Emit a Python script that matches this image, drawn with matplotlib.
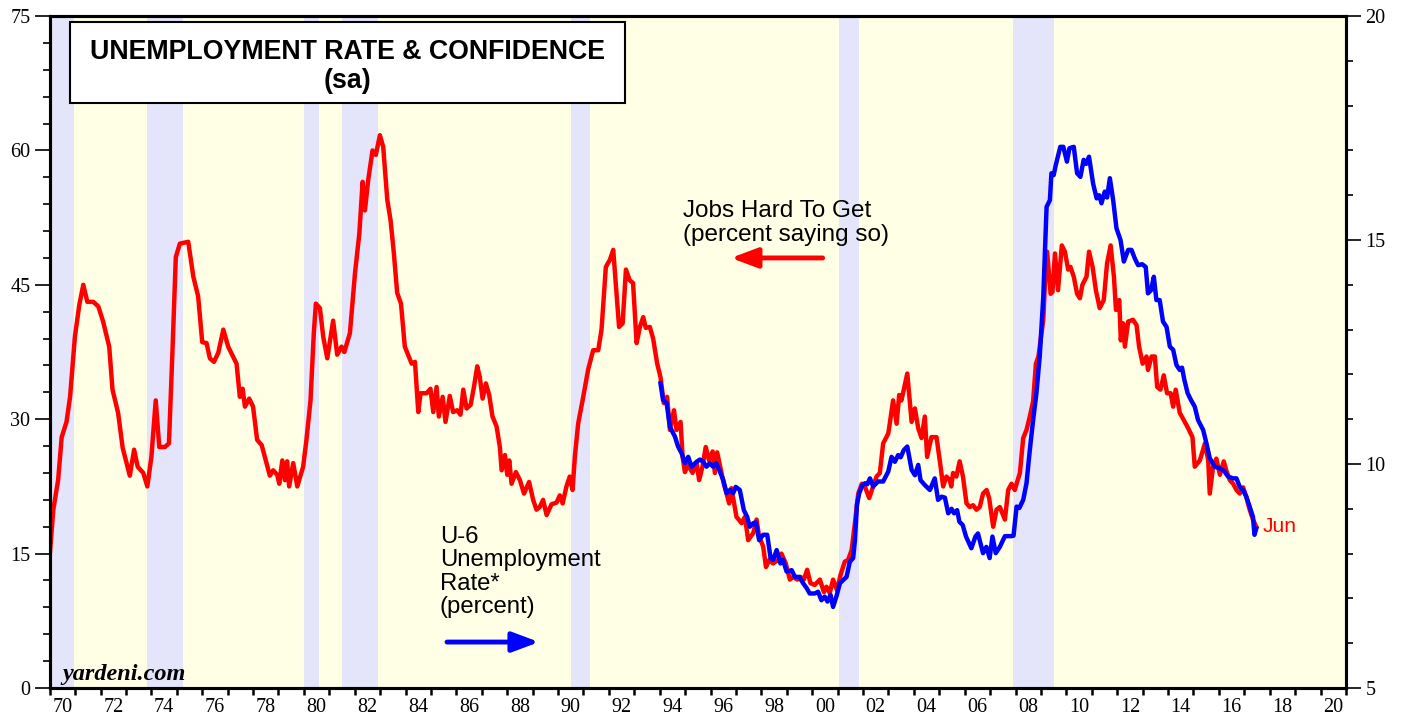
import matplotlib
matplotlib.use("Agg")
import matplotlib.pyplot as plt
from matplotlib.patches import Rectangle

# Jobs Hard To Get (percent saying so), left axis
red_years = [
    1970.00, 1970.14, 1970.33, 1970.47, 1970.66, 1970.80, 1970.99, 1971.16, 1971.32, 1971.48,
    1971.71, 1971.91, 1972.10, 1972.34, 1972.47, 1972.69, 1972.87, 1973.15, 1973.32, 1973.46,
    1973.68, 1973.84, 1974.00, 1974.17, 1974.31, 1974.53, 1974.69, 1974.83, 1974.96, 1975.12,
    1975.45, 1975.65, 1975.84, 1976.00, 1976.17, 1976.30, 1976.46, 1976.63, 1976.83, 1977.02,
    1977.35, 1977.48, 1977.59, 1977.68, 1977.85, 1978.00, 1978.16, 1978.34, 1978.66, 1978.79,
    1978.95, 1979.03, 1979.15, 1979.25, 1979.34, 1979.42, 1979.58, 1979.74, 1979.97, 1980.10,
    1980.26, 1980.39, 1980.47, 1980.63, 1980.76, 1980.92, 1981.15, 1981.31, 1981.48, 1981.59,
    1981.81, 1982.01, 1982.18, 1982.31, 1982.40, 1982.53, 1982.70, 1982.83, 1982.99, 1983.12,
    1983.28, 1983.41, 1983.54, 1983.67, 1983.82, 1983.97, 1984.24, 1984.37, 1984.50, 1984.59,
    1984.83, 1984.98, 1985.09, 1985.22, 1985.31, 1985.46, 1985.57, 1985.74, 1985.87, 1986.03,
    1986.16, 1986.27, 1986.40, 1986.56, 1986.69, 1986.82, 1986.92, 1987.03, 1987.16, 1987.29,
    1987.42, 1987.58, 1987.71, 1987.78, 1987.91, 1988.00, 1988.08, 1988.17, 1988.34, 1988.50,
    1988.66, 1988.86, 1989.02, 1989.15, 1989.28, 1989.41, 1989.55, 1989.74, 1989.94, 1990.07,
    1990.18, 1990.33, 1990.46, 1990.57, 1990.66, 1990.79, 1990.99, 1991.18, 1991.38, 1991.58,
    1991.71, 1991.88, 1992.04, 1992.17, 1992.27, 1992.40, 1992.54, 1992.67, 1992.82, 1992.95,
    1993.09, 1993.22, 1993.35, 1993.45, 1993.61, 1993.74, 1993.90, 1994.03, 1994.16, 1994.29,
    1994.40, 1994.56, 1994.66, 1994.82, 1994.90, 1994.99, 1995.12, 1995.29, 1995.45, 1995.55,
    1995.68, 1995.81, 1995.94, 1996.08, 1996.17, 1996.26, 1996.43, 1996.52, 1996.63, 1996.73,
    1996.82, 1997.02, 1997.22, 1997.35, 1997.48, 1997.68, 1997.81, 1997.91, 1998.07, 1998.18,
    1998.31, 1998.46, 1998.66, 1998.79, 1998.96, 1999.12, 1999.25, 1999.41, 1999.54, 1999.67,
    1999.80, 1999.93, 2000.10, 2000.30, 2000.46, 2000.56, 2000.69, 2000.82, 2000.98, 2001.11,
    2001.28, 2001.41, 2001.55, 2001.68, 2001.81, 2001.95, 2002.07, 2002.24, 2002.37, 2002.53,
    2002.66, 2002.79, 2002.99, 2003.05, 2003.18, 2003.32, 2003.42, 2003.51, 2003.74, 2003.91,
    2004.04, 2004.17, 2004.30, 2004.43, 2004.52, 2004.69, 2004.89, 2005.05, 2005.15, 2005.28,
    2005.41, 2005.47, 2005.54, 2005.67, 2005.80, 2005.93, 2006.07, 2006.20, 2006.33, 2006.46,
    2006.59, 2006.72, 2006.86, 2006.96, 2007.12, 2007.25, 2007.38, 2007.58, 2007.71, 2007.84,
    2007.97, 2008.04, 2008.17, 2008.30, 2008.43, 2008.56, 2008.69, 2008.80, 2008.90, 2009.09,
    2009.15, 2009.24, 2009.38, 2009.45, 2009.55, 2009.67, 2009.82, 2009.94, 2010.07, 2010.16,
    2010.29, 2010.42, 2010.53, 2010.63, 2010.79, 2010.89, 2011.03, 2011.16, 2011.31, 2011.47,
    2011.60, 2011.74, 2011.87, 2011.95, 2012.08, 2012.14, 2012.23, 2012.30, 2012.43, 2012.62,
    2012.76, 2012.86, 2013.00, 2013.15, 2013.21, 2013.35, 2013.48, 2013.57, 2013.70, 2013.83,
    2013.96, 2014.10, 2014.20, 2014.30, 2014.46, 2014.62, 2014.79, 2014.96, 2015.05, 2015.25,
    2015.45, 2015.58, 2015.64, 2015.77, 2015.90, 2016.04, 2016.19, 2016.30, 2016.43, 2016.56,
    2016.69, 2016.82, 2016.95, 2017.08, 2017.21, 2017.34, 2017.47,
]
red_vals = [
    14.8, 19.9, 23.2, 28.0, 29.7, 32.5, 39.2, 42.7, 45.0, 43.1,
    43.1, 42.6, 40.9, 38.1, 33.3, 30.7, 26.8, 23.7, 26.6, 24.7,
    24.0, 22.5, 25.8, 32.1, 26.9, 26.9, 27.3, 37.7, 48.1, 49.6,
    49.8, 45.9, 43.7, 38.6, 38.5, 36.8, 36.4, 37.4, 40.0, 38.1,
    36.2, 32.5, 33.4, 31.4, 32.3, 31.4, 27.7, 27.1, 23.7, 24.3,
    23.8, 22.8, 25.4, 23.2, 25.3, 22.5, 25.1, 22.5, 24.7, 27.7,
    32.1, 39.6, 42.9, 42.4, 39.2, 36.8, 41.0, 37.2, 38.1, 37.5,
    39.6, 46.3, 50.7, 56.5, 53.3, 56.7, 60.0, 59.5, 61.7, 60.4,
    54.5, 52.2, 48.5, 44.1, 42.9, 38.1, 36.2, 36.4, 30.8, 32.9,
    32.9, 33.4, 30.8, 33.6, 30.3, 32.5, 29.7, 32.6, 30.8, 31.0,
    30.5, 33.3, 31.2, 31.6, 33.6, 35.9, 34.7, 32.3, 34.0, 32.7,
    30.3, 29.2, 26.9, 24.3, 26.0, 23.8, 25.4, 22.8, 24.1, 23.2,
    21.7, 23.0, 21.0, 19.9, 20.2, 21.0, 19.3, 20.5, 20.7, 21.5,
    20.6, 22.5, 23.6, 22.1, 25.8, 29.5, 32.5, 35.5, 37.7, 37.7,
    40.0, 47.0, 47.8, 48.9, 45.2, 40.3, 40.7, 46.7, 45.5, 45.2,
    38.5, 40.3, 41.4, 40.2, 40.3, 39.0, 36.2, 34.7, 31.8, 32.5,
    28.8, 31.0, 28.8, 29.7, 25.8, 24.1, 24.9, 24.0, 25.1, 23.2,
    24.7, 26.9, 25.4, 26.4, 24.0, 26.3, 24.0, 22.8, 21.7, 20.6,
    22.3, 19.1, 18.4, 19.1, 16.5, 17.3, 18.8, 16.9, 15.8, 13.5,
    14.3, 13.9, 14.3, 15.0, 13.9, 12.1, 12.4, 12.1, 12.4, 12.1,
    13.2, 11.7, 11.5, 12.1, 10.7, 11.3, 10.6, 12.1, 10.9, 12.6,
    14.1, 14.3, 15.4, 18.4, 21.7, 22.8, 22.5, 21.2, 22.3, 23.6,
    24.0, 27.3, 28.4, 29.5, 32.1, 29.5, 32.7, 32.1, 35.1, 29.7,
    31.2, 29.0, 27.9, 30.3, 25.8, 28.0, 28.0, 24.7, 22.5, 23.6,
    23.2, 22.5, 24.0, 23.6, 25.3, 23.6, 20.6, 20.2, 20.4, 19.9,
    20.2, 21.7, 22.1, 21.2, 18.0, 19.9, 20.2, 18.8, 22.1, 22.8,
    22.1, 22.8, 24.0, 27.9, 28.8, 30.3, 32.0, 36.2, 37.0, 41.1,
    44.8, 48.7, 44.0, 44.2, 48.5, 44.4, 49.4, 48.7, 46.7, 47.0,
    45.9, 44.0, 43.5, 45.0, 45.9, 48.7, 47.0, 44.4, 42.4, 43.3,
    47.4, 49.4, 45.9, 42.2, 43.3, 38.8, 40.7, 38.1, 40.9, 41.1,
    40.5, 38.1, 36.2, 37.0, 35.5, 37.0, 37.0, 33.6, 33.3, 34.9,
    32.9, 32.9, 31.4, 33.3, 30.7, 29.9, 29.0, 28.0, 24.7, 25.4,
    27.3, 25.4, 21.7, 24.7, 25.6, 23.8, 25.3, 24.2, 23.2, 22.8,
    22.1, 21.7, 22.4, 21.3, 19.9, 18.8, 18.0,
]

# U-6 unemployment rate (percent), right axis
blue_years = [
    1994.03, 1994.13, 1994.27, 1994.40, 1994.60, 1994.72, 1994.86, 1994.99, 1995.12, 1995.25,
    1995.45, 1995.58, 1995.71, 1995.84, 1995.97, 1996.10, 1996.22, 1996.34, 1996.50, 1996.63,
    1996.76, 1996.89, 1996.99, 1997.15, 1997.31, 1997.44, 1997.54, 1997.68, 1997.78, 1997.91,
    1998.07, 1998.23, 1998.36, 1998.46, 1998.60, 1998.75, 1998.85, 1998.99, 1999.19, 1999.32,
    1999.49, 1999.64, 1999.78, 1999.90, 2000.10, 2000.23, 2000.36, 2000.49, 2000.60, 2000.72,
    2000.82, 2000.95, 2001.09, 2001.22, 2001.35, 2001.48, 2001.61, 2001.68, 2001.76, 2001.85,
    2001.97, 2002.07, 2002.17, 2002.27, 2002.40, 2002.59, 2002.79, 2002.99, 2003.12, 2003.25,
    2003.38, 2003.48, 2003.60, 2003.74, 2003.91, 2004.04, 2004.17, 2004.26, 2004.43, 2004.63,
    2004.82, 2004.95, 2005.09, 2005.22, 2005.35, 2005.48, 2005.58, 2005.70, 2005.79, 2005.92,
    2006.05, 2006.26, 2006.42, 2006.52, 2006.72, 2006.85, 2006.98, 2007.09, 2007.22, 2007.38,
    2007.58, 2007.84, 2007.92, 2008.04, 2008.15, 2008.30, 2008.43, 2008.56, 2008.69, 2008.82,
    2008.95, 2009.09, 2009.22, 2009.35, 2009.41, 2009.50, 2009.58, 2009.76, 2009.88, 2010.02,
    2010.12, 2010.29, 2010.42, 2010.55, 2010.68, 2010.78, 2010.89, 2011.05, 2011.19, 2011.29,
    2011.38, 2011.51, 2011.60, 2011.71, 2011.84, 2011.97, 2012.13, 2012.26, 2012.43, 2012.56,
    2012.69, 2012.82, 2012.98, 2013.12, 2013.21, 2013.33, 2013.44, 2013.54, 2013.67, 2013.80,
    2013.94, 2014.07, 2014.20, 2014.33, 2014.46, 2014.55, 2014.64, 2014.77, 2014.90, 2015.05,
    2015.18, 2015.38, 2015.51, 2015.64, 2015.84, 2016.04, 2016.20, 2016.36, 2016.56, 2016.69,
    2016.82, 2016.95, 2017.08, 2017.21, 2017.34, 2017.40, 2017.47,
]
blue_vals = [
    11.80, 11.43, 11.36, 10.83, 10.61, 10.39, 10.24, 10.02, 10.16, 9.94,
    10.05, 10.10, 10.05, 9.94, 10.02, 9.94, 10.02, 9.87, 9.64, 9.35,
    9.42, 9.35, 9.49, 9.42, 8.97, 8.82, 8.60, 8.68, 8.70, 8.30,
    8.42, 8.42, 7.90, 7.86, 8.08, 7.78, 7.86, 7.60, 7.63, 7.48,
    7.48, 7.34, 7.23, 7.11, 7.11, 7.15, 6.96, 7.04, 6.93, 7.08,
    6.81, 7.04, 7.34, 7.41, 7.48, 7.82, 7.90, 8.30, 9.10, 9.35,
    9.52, 9.57, 9.55, 9.68, 9.50, 9.61, 9.61, 9.83, 10.16, 10.05,
    10.20, 10.15, 10.31, 10.39, 9.87, 9.75, 9.98, 9.64, 9.53, 9.42,
    9.68, 9.20, 9.27, 9.25, 8.90, 9.00, 8.90, 8.97, 8.71, 8.64,
    8.38, 8.12, 8.38, 8.45, 8.01, 8.15, 7.90, 8.38, 8.01, 8.15,
    8.39, 8.39, 8.40, 9.05, 9.02, 9.20, 9.57, 10.31, 10.98, 11.58,
    12.40, 13.73, 15.74, 15.89, 16.49, 16.45, 16.67, 17.08, 17.08, 16.75,
    17.05, 17.08, 16.49, 16.41, 16.79, 16.70, 16.86, 16.26, 15.93, 16.00,
    15.82, 16.08, 15.95, 16.38, 15.89, 15.26, 15.00, 14.52, 14.78, 14.78,
    14.59, 14.44, 14.46, 14.40, 13.81, 13.88, 14.18, 13.66, 13.66, 13.18,
    13.06, 12.62, 12.55, 12.21, 12.10, 12.15, 11.88, 11.58, 11.43, 11.28,
    10.98, 10.76, 10.46, 10.13, 9.94, 9.90, 9.85, 9.72, 9.68, 9.68,
    9.49, 9.42, 9.27, 9.05, 8.82, 8.42, 8.56,
]

# recessions (start, end) in years
recession_starts = [1969.90, 1973.83, 1980.00, 1981.50, 1990.50, 2001.04, 2007.89]
recession_ends = [1970.95, 1975.24, 1980.59, 1982.91, 1991.25, 2001.83, 2009.51]

year_labels = ["%02d" % (y % 100) for y in range(1970, 2021, 2)]

serif = "Liberation Serif"
sans = "Liberation Sans"

fig = plt.figure(figsize=(14.05, 7.19), dpi=100)
ax = fig.add_axes([0.0354, 0.0431, 0.9226, 0.9346])
ax.set_facecolor("#FFFFE6")

for s, e in zip(recession_starts, recession_ends):
    ax.axvspan(s, e, color="#E4E4FA", lw=0, zorder=0)

ax.plot(red_years, red_vals, color="#FF0000", lw=3.2, solid_joinstyle="round", zorder=3)

ax.set_xlim(1970, 2021)
ax.set_ylim(0, 75)
ax.set_yticks(range(0, 76, 15))
ax.set_yticks(range(0, 76, 3), minor=True)

# bottom: a tick each year, labels centred in every other year
ax.set_xticks(range(1970, 2022))
ax.set_xticklabels([])
ax.set_xticks([y + 0.5 for y in range(1970, 2021, 2)], minor=True)
ax.set_xticklabels(year_labels, minor=True)
ax.tick_params(axis="x", which="major", direction="out", length=5, width=1.8)
ax.tick_params(axis="x", which="minor", length=0, pad=7, labelsize=14.5)
ax.tick_params(axis="y", which="major", direction="out", length=11, width=1.2, labelsize=14.5, pad=3)
ax.tick_params(axis="y", which="minor", direction="out", length=5, width=1.2)
for lab in ax.get_xticklabels(minor=True) + ax.get_yticklabels():
    lab.set_fontfamily(serif)

ax2 = ax.twinx()
ax2.plot(blue_years, blue_vals, color="#0000FF", lw=3.2, solid_joinstyle="round", zorder=3)
ax2.set_ylim(5, 20)
ax2.set_yticks(range(5, 21, 5))
ax2.set_yticks(range(5, 21, 1), minor=True)
ax2.tick_params(axis="y", which="major", direction="out", length=11, width=1.2, labelsize=14.5, pad=3)
ax2.tick_params(axis="y", which="minor", direction="out", length=5, width=1.2)
for lab in ax2.get_yticklabels():
    lab.set_fontfamily(serif)

for a in (ax, ax2):
    for sp in a.spines.values():
        sp.set_linewidth(2.2)

# title box
ax.add_patch(Rectangle((0.0156, 0.8705), 0.428, 0.1205, transform=ax.transAxes,
                       facecolor="white", edgecolor="black", lw=1.5, zorder=5))
ax.text(0.2297, 0.946, "UNEMPLOYMENT RATE & CONFIDENCE", transform=ax.transAxes,
        ha="center", va="center", fontsize=19.3, fontweight="bold", family=sans, zorder=6)
ax.text(0.2297, 0.904, "(sa)", transform=ax.transAxes,
        ha="center", va="center", fontsize=19.3, fontweight="bold", family=sans, zorder=6)

# annotations
ax.text(1994.9, 54.45, "Jobs Hard To Get\n(percent saying so)", ha="left", va="top",
        fontsize=17.5, family=sans, linespacing=1.08, zorder=6)
ax.annotate("", xy=(1996.8, 48.0), xytext=(2000.41, 48.0),
            arrowprops=dict(arrowstyle="-|>,head_length=0.8,head_width=0.3",
                            color="#FF0000", lw=3.5, mutation_scale=20, shrinkA=0, shrinkB=0))
ax.text(1985.35, 18.1, "U-6\nUnemployment\nRate*\n(percent)", ha="left", va="top",
        fontsize=17.2, family=sans, linespacing=1.08, zorder=6)
ax.annotate("", xy=(1989.25, 5.13), xytext=(1985.63, 5.13),
            arrowprops=dict(arrowstyle="-|>,head_length=0.8,head_width=0.3",
                            color="#0000FF", lw=3.5, mutation_scale=20, shrinkA=0, shrinkB=0))
ax.text(2017.73, 18.0, "Jun", color="#FF0000", ha="left", va="center",
        fontsize=15, family=sans, zorder=6)
ax.text(1970.48, 1.5, "yardeni.com", ha="left", va="center", fontsize=17.5,
        fontweight="bold", fontstyle="italic", family=serif, zorder=6)

fig.savefig("out.png", dpi=100)
